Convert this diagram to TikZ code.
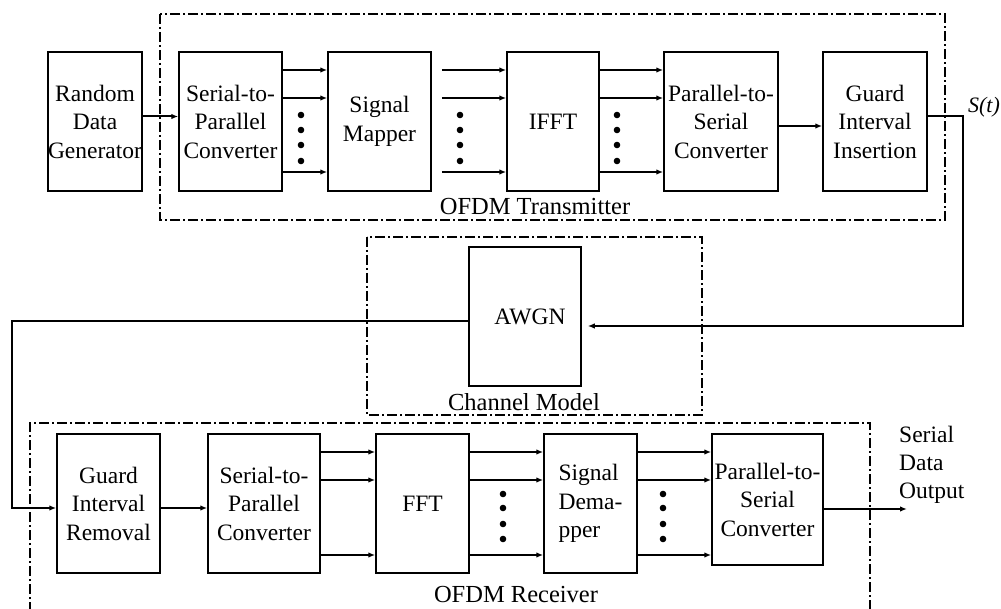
\documentclass[tikz,border=0pt]{standalone}
\usepackage{fontspec}
\setmainfont{Liberation Serif}
\usepackage{tikz}
\usetikzlibrary{arrows.meta,positioning,calc}

\tikzset{
    blk/.style={draw, line width=1.5pt, inner sep=0pt, align=center,
        minimum height=139pt, font=\fontsize{23.5}{28.5}\selectfont},
    arr/.style={line width=2pt, -{Latex[length=7pt,width=5.5pt]}},
    grp/.style={line width=1.1pt, dash pattern=on 10pt off 3pt on 2pt off 3pt},
    lbl/.style={font=\fontsize{24.5}{30}\selectfont, inner sep=0pt}
}

\begin{document}
\begin{tikzpicture}[x=1pt, y=-1pt]
    \useasboundingbox (0,0) rectangle (1001,609);

    % group frames
    \draw[grp] (160,14) rectangle (945,220);
    \draw[grp] (367,237) rectangle (702,415);
    \draw[grp] (30,612) -- (30,423) -- (870,423) -- (870,612);

    % transmitter chain
    \node[blk, minimum width=94pt]  (rdg)  at (95,121.5)  {Random\\Data\\Generator};
    \node[blk, minimum width=103pt] (sp1)  at (230.5,121.5) {Serial-to-\\Parallel\\Converter};
    \node[blk, minimum width=103pt] (map)  at (379.5,121.5) {Signal\\Mapper};
    \node[blk, minimum width=92pt]  (ifft) at (553,121.5)  {IFFT};
    \node[blk, minimum width=114pt] (ps1)  at (721,121.5)  {Parallel-to-\\Serial\\Converter};
    \node[blk, minimum width=104pt] (gii)  at (875,121.5)  {Guard\\Interval\\Insertion};

    % channel
    \node[blk, minimum width=112pt] (awgn) at (525,316.5) {\hspace{10pt}AWGN};

    % receiver chain
    \node[blk, minimum width=103pt] (gir)  at (108.5,503.5) {Guard\\Interval\\Removal};
    \node[blk, minimum width=112pt] (sp2)  at (264,503.5)  {Serial-to-\\Parallel\\Converter};
    \node[blk, minimum width=93pt]  (fft)  at (422.5,503.5) {FFT};
    \node[blk, minimum width=93pt, align=left] (dem) at (590.5,503.5) {Signal\\Dema-\\pper};
    \node[blk, minimum width=111pt, minimum height=131pt] (ps2) at (767.5,499.5) {Parallel-to-\\Serial\\Converter};

    % labels
    \node[lbl] (txl) at (535,207) {OFDM Transmitter};
    \node[lbl] (chl) at (524,402) {Channel Model};
    \node[lbl] (rxl) at (516,595) {OFDM Receiver};
    \node[lbl, font=\fontsize{22}{26}\selectfont\itshape] (stl) at (984,107) {S(t)};
    \node[lbl, anchor=west, align=left, font=\fontsize{23.5}{28}\selectfont] (outl) at (899,465) {Serial\\Data\\Output};

    \coordinate (st)  at (963,326);
    \coordinate (lc1) at (12,321);
    \coordinate (out) at (907,509);

    % transmitter connections
    \draw[arr] ([yshift=5pt]rdg.east) -- ([yshift=5pt]sp1.west);
    \foreach \d in {51.5,23.5,-50.5} {
        \draw[arr] ([yshift=\d pt]sp1.east) -- ([yshift=\d pt]map.west);
        \draw[arr] ([xshift=10pt,yshift=\d pt]map.east) -- ([yshift=\d pt]ifft.west);
        \draw[arr] ([yshift=\d pt]ifft.east) -- ([yshift=\d pt]ps1.west);
    }
    \draw[arr] ([yshift=-4.5pt]ps1.east) -- ([yshift=-4.5pt]gii.west);
    \draw[arr] ([yshift=5pt]gii.east) -| (st) -- ([xshift=6pt,yshift=-9.5pt]awgn.east);

    % channel to receiver
    \draw[arr] ([yshift=-4.5pt]awgn.west) -- (lc1) |- ([yshift=-4.5pt]gir.west);

    % receiver connections
    \draw[arr] ([yshift=-4.5pt]gir.east) -- ([yshift=-4.5pt]sp2.west);
    \foreach \d in {51.5,23.5,-51.5} {
        \draw[arr] ([yshift=\d pt]sp2.east) -- ([yshift=\d pt]fft.west);
        \path ([yshift=\d pt]fft.east) coordinate (tmp);
        \draw[arr] (tmp) -- (tmp -| dem.west);
        \draw[arr] (tmp -| dem.east) -- (tmp -| ps2.west);
    }
    \draw[arr] ([yshift=-9.5pt]ps2.east) -- (out);

    % ellipsis dots
    \foreach \x in {301,460,617}
        \foreach \y in {115,130,145,161}
            \fill (\x,\y) circle (3.3pt);
    \foreach \x in {503,663}
        \foreach \y in {494,508,524,539}
            \fill (\x,\y) circle (3.3pt);
\end{tikzpicture}
\end{document}
